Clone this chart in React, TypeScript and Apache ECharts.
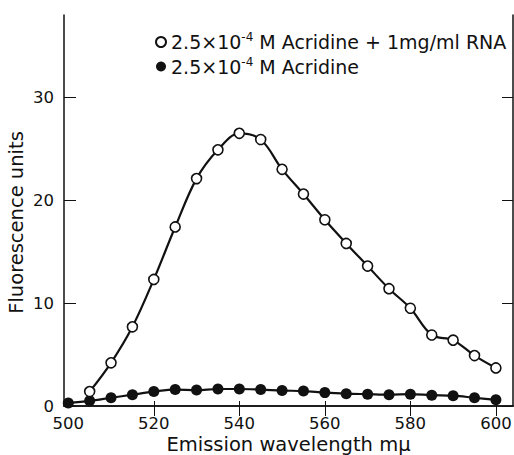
import React, { useEffect, useRef } from "react";
import * as echarts from "echarts";

const wavelengths = [500, 505, 510, 515, 520, 525, 530, 535, 540, 545, 550, 555, 560, 565, 570, 575, 580, 585, 590, 595, 600];
const rnaValues = [null, 1.4, 4.2, 7.7, 12.3, 17.4, 22.1, 24.9, 26.5, 25.9, 23.0, 20.6, 18.1, 15.8, 13.6, 11.4, 9.5, 6.9, 6.4, 4.9, 3.7];
const acridineValues = [0.3, 0.5, 0.8, 1.1, 1.4, 1.6, 1.55, 1.65, 1.65, 1.6, 1.5, 1.45, 1.3, 1.2, 1.15, 1.1, 1.15, 1.05, 1.0, 0.8, 0.6];
const xTicks = [500, 520, 540, 560, 580, 600];
const xTopTicks = [520, 540, 560, 580, 600];
const yTicks = [0, 10, 20, 30];
const seriesNames = ["RNA", "Acridine"];

const FONT = "DejaVu Sans";

export default function App() {
  const ref = useRef<HTMLDivElement>(null);
  useEffect(() => {
    const chart = echarts.init(ref.current!, null, { renderer: "svg" });
    const pair = (vals: (number | null)[]) =>
      wavelengths.map((w, i) => [w, vals[i]]).filter((p) => p[1] !== null);
    chart.setOption({
      animation: false,
      backgroundColor: "#ffffff",
      grid: { left: 64, right: 1, top: 15, height: 391, outerBoundsMode: "none", containLabel: false },
      legend: {
        orient: "vertical",
        left: 150,
        top: 26,
        itemGap: 4,
        itemWidth: 10,
        itemHeight: 10,
        icon: "circle",
        data: seriesNames,
        formatter: (name: string) =>
          name === "RNA"
            ? "{a|2.5×10}{s|-4}{a| M Acridine + 1mg/ml RNA}"
            : "{a|2.5×10}{s|-4}{a| M Acridine}",
        textStyle: {
          rich: {
            a: { fontFamily: FONT, fontSize: 19, color: "#111" },
            s: { fontFamily: FONT, fontSize: 12, color: "#111", padding: [0, 0, 10, 0] },
          },
        },
      },
      xAxis: [
        {
          type: "value",
          min: 499,
          max: 604,
          position: "bottom",
          splitLine: { show: false },
          axisLine: { show: true, lineStyle: { color: "#111", width: 1.5 } },
          axisTick: { show: true, inside: true, length: 5, customValues: xTicks, lineStyle: { color: "#111" } },
          axisLabel: { customValues: xTicks, fontFamily: FONT, fontSize: 16.5, color: "#111", margin: 9 },
          name: "Emission wavelength mμ",
          nameLocation: "middle",
          nameGap: 28,
          nameMoveOverlap: false,
          nameTextStyle: { fontFamily: FONT, fontSize: 19.5, color: "#111" },
        },
        {
          type: "value",
          min: 499,
          max: 604,
          position: "top",
          splitLine: { show: false },
          axisLine: { show: true, lineStyle: { color: "#111", width: 1.5 } },
          axisTick: { show: true, inside: true, length: 10, customValues: xTopTicks, lineStyle: { color: "#111" } },
          axisLabel: { show: false },
        },
      ],
      yAxis: [
        {
          type: "value",
          min: 0,
          max: 38,
          position: "left",
          splitLine: { show: false },
          axisLine: { show: true, lineStyle: { color: "#111", width: 1.5 } },
          axisTick: { show: true, inside: true, length: 12, customValues: yTicks, lineStyle: { color: "#111" } },
          axisLabel: { customValues: yTicks, fontFamily: FONT, fontSize: 16.5, color: "#111", margin: 10 },
          name: "Fluorescence units",
          nameLocation: "middle",
          nameGap: 38,
          nameMoveOverlap: false,
          nameTextStyle: { fontFamily: FONT, fontSize: 19.5, color: "#111", padding: [0, 24, 0, 0] },
        },
        {
          type: "value",
          min: 0,
          max: 38,
          position: "right",
          splitLine: { show: false },
          axisLine: { show: true, lineStyle: { color: "#111", width: 1.5 } },
          axisTick: { show: true, inside: true, length: 11, customValues: yTicks, lineStyle: { color: "#111" } },
          axisLabel: { show: false },
        },
      ],
      series: [
        {
          name: "RNA",
          type: "line",
          data: pair(rnaValues),
          smooth: 0.35,
          symbol: "circle",
          symbolSize: 10,
          lineStyle: { color: "#111", width: 2.2 },
          itemStyle: { color: "#ffffff", borderColor: "#111", borderWidth: 1.6 },
          z: 3,
        },
        {
          name: "Acridine",
          type: "line",
          data: pair(acridineValues),
          smooth: 0.35,
          symbol: "circle",
          symbolSize: 11,
          lineStyle: { color: "#111", width: 2.2 },
          itemStyle: { color: "#111", borderColor: "#111", borderWidth: 0 },
          z: 2,
        },
      ],
    });
    return () => chart.dispose();
  }, []);
  return <div ref={ref} style={{ width: 514, height: 455, position: "absolute", left: 0, top: 0 }} />;
}
